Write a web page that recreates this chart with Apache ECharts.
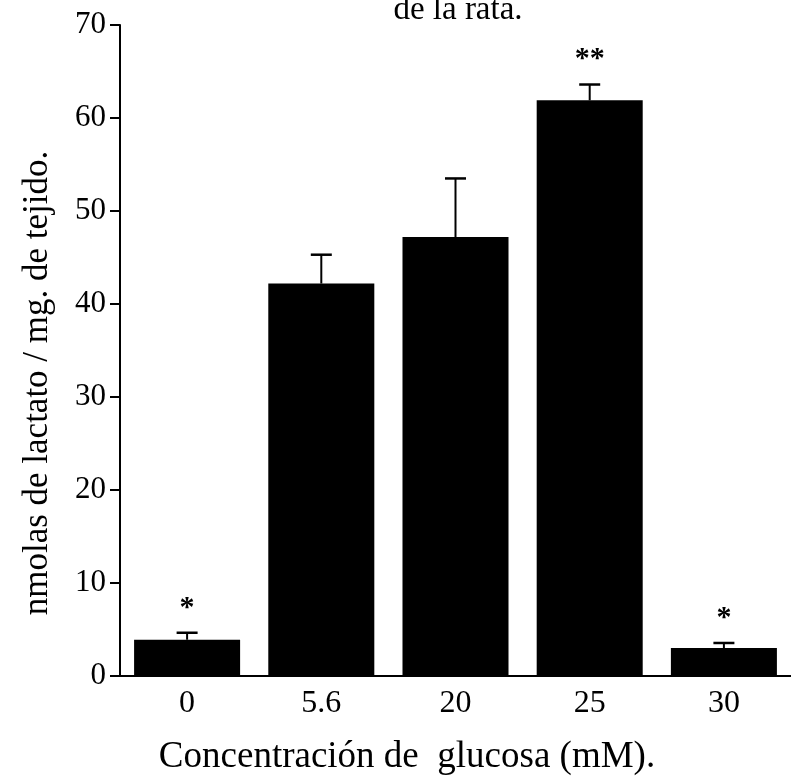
<!DOCTYPE html>
<html>
<head>
<meta charset="utf-8">
<script src="https://cdn.jsdelivr.net/npm/echarts@6/dist/echarts.min.js"></script>
<style>
  html, body { margin: 0; padding: 0; background: #fff; }
  #chart { width: 791px; height: 780px; }
</style>
</head>
<body>
<div id="chart"></div>
<script>
// Glucose concentrations (mM)
const categories = ['0', '5.6', '20', '25', '30'];
// Lactate produced (nmol / mg tissue)
const lactato = [3.9, 42.2, 47.2, 61.9, 3.0];
// Upper standard error
const errorSup = [0.75, 3.1, 6.3, 1.7, 0.55];
// Significance marks
const signif = ['*', '', '', '**', '*'];
const yTicks = [0, 10, 20, 30, 40, 50, 60, 70];

const serif = '"Liberation Serif", "DejaVu Serif", serif';
const chart = echarts.init(document.getElementById('chart'));

const errData = categories.map((c, i) => [i, lactato[i], lactato[i] + errorSup[i]]);

chart.setOption({
  animation: false,
  backgroundColor: '#fff',
  grid: { left: 120, right: 0, top: 25, bottom: 104 },
  xAxis: {
    type: 'category',
    data: categories,
    axisLine: { show: true, lineStyle: { color: '#000', width: 2 } },
    axisTick: { show: false },
    axisLabel: { color: '#000', fontFamily: serif, fontSize: 32, margin: 12 }
  },
  yAxis: {
    type: 'value',
    min: yTicks[0],
    max: yTicks[yTicks.length - 1],
    interval: 10,
    splitLine: { show: false },
    axisLine: { show: true, lineStyle: { color: '#000', width: 2 } },
    axisTick: { show: true, length: 10, lineStyle: { color: '#000', width: 2 } },
    axisLabel: { color: '#000', fontFamily: serif, fontSize: 31, margin: 14 }
  },
  series: [
    {
      type: 'bar',
      data: lactato,
      barWidth: '79%',
      itemStyle: { color: '#000' },
      z: 2
    },
    {
      type: 'custom',
      data: errData,
      z: 3,
      renderItem: function (params, api) {
        const base = api.coord([api.value(0), api.value(1)]);
        const top = api.coord([api.value(0), api.value(2)]);
        const half = 10.5;
        const mark = signif[params.dataIndex];
        const children = [
          { type: 'line', shape: { x1: base[0], y1: base[1], x2: top[0], y2: top[1] },
            style: { stroke: '#000', lineWidth: 2 } },
          { type: 'line', shape: { x1: top[0] - half, y1: top[1], x2: top[0] + half, y2: top[1] },
            style: { stroke: '#000', lineWidth: 2.5 } }
        ];
        if (mark) {
          children.push({
            type: 'text',
            style: {
              text: mark, x: top[0], y: top[1] - 10,
              align: 'center', verticalAlign: 'bottom',
              fill: '#000', font: 'bold 30px ' + serif
            }
          });
        }
        return { type: 'group', children: children };
      }
    }
  ],
  graphic: [
    {
      type: 'text',
      style: {
        text: 'de la rata.', x: 458, y: 27,
        align: 'center', verticalAlign: 'bottom',
        fill: '#000', font: '33px ' + serif
      }
    },
    {
      type: 'text',
      x: 38, y: 383,
      rotation: Math.PI / 2,
      style: {
        text: 'nmolas de lactato / mg. de tejido.', x: 0, y: 0,
        align: 'center', verticalAlign: 'middle',
        fill: '#000', font: '35px ' + serif
      }
    },
    {
      type: 'text',
      style: {
        text: 'Concentración de  glucosa (mM).', x: 407, y: 757,
        align: 'center', verticalAlign: 'middle',
        fill: '#000', font: '37px ' + serif
      }
    }
  ]
});
</script>
</body>
</html>
